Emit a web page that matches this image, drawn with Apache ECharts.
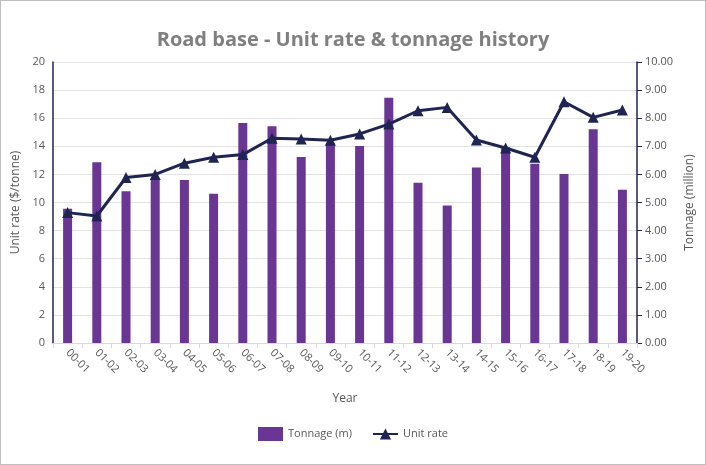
<!DOCTYPE html>
<html><head><meta charset="utf-8">
<script src="https://cdn.jsdelivr.net/npm/echarts@6/dist/echarts.min.js"></script>
<style>html,body{margin:0;padding:0;background:#fff}#c{width:704px;height:463px;border:1px solid #bfbfbf}</style>
</head><body><div id="c"></div>
<script>
var years = ['00-01','01-02','02-03','03-04','04-05','05-06','06-07','07-08','08-09','09-10','10-11','11-12','12-13','13-14','14-15','15-16','16-17','17-18','18-19','19-20'];
var tonnage = [4.78,6.43,5.40,5.84,5.80,5.31,7.83,7.71,6.62,7.10,7.01,8.73,5.70,4.89,6.25,6.97,6.38,6.01,7.61,5.45];
var unitRate = [9.28,9.04,11.78,12.0,12.8,13.22,13.41,14.57,14.52,14.43,14.88,15.58,16.53,16.77,14.45,13.88,13.22,17.17,16.06,16.58];

var chart = echarts.init(document.getElementById('c'));
var grey = '#595959';
var navy = '#1f2452';
chart.setOption({
    animation: false,
    textStyle: {fontFamily: 'Open Sans, Liberation Sans, sans-serif'},
    title: {
        text: 'Road base - Unit rate & tonnage history',
        left: 'center', top: 24,
        textStyle: {color: '#7f7f7f', fontSize: 20, fontWeight: 'bold'}
    },
    legend: {
        bottom: 18, itemGap: 20,
        textStyle: {color: grey, fontSize: 11},
        data: [{name: 'Tonnage (m)', icon: 'rect'}, {name: 'Unit rate'}]
    },
    grid: {left: 52, right: 68, top: 61, bottom: 121},
    xAxis: {
        type: 'category', data: years, name: 'Year', nameLocation: 'middle', nameGap: 50,
        nameTextStyle: {color: grey, fontSize: 12},
        axisLine: {lineStyle: {color: '#d9d9d9'}},
        axisTick: {show: true, alignWithLabel: false, lineStyle: {color: '#d9d9d9'}},
        axisLabel: {rotate: -45, color: grey, fontSize: 11, interval: 0, margin: 8}
    },
    yAxis: [{
        type: 'value', min: 0, max: 20, interval: 2, name: 'Unit rate ($/tonne)',
        nameLocation: 'middle', nameGap: 30, nameTextStyle: {color: grey, fontSize: 12},
        axisLine: {show: true, lineStyle: {color: navy, width: 1.5}},
        axisLabel: {color: grey, fontSize: 11},
        splitLine: {lineStyle: {color: '#e3e3e3'}}
    }, {
        type: 'value', min: 0, max: 10, interval: 1, name: 'Tonnage (million)',
        nameLocation: 'middle', nameGap: 44, nameTextStyle: {color: grey, fontSize: 12},
        axisLine: {show: true, lineStyle: {color: navy, width: 1.5}},
        axisTick: {show: true, lineStyle: {color: navy}},
        axisLabel: {color: grey, fontSize: 11, formatter: function (v) { return v.toFixed(2); }},
        splitLine: {show: false}
    }],
    series: [{
        name: 'Tonnage (m)', type: 'bar', yAxisIndex: 1, data: tonnage,
        barWidth: 9, itemStyle: {color: '#6a3694'}
    }, {
        name: 'Unit rate', type: 'line', yAxisIndex: 0, data: unitRate,
        symbol: 'triangle', symbolSize: 11,
        lineStyle: {color: navy, width: 3}, itemStyle: {color: navy}
    }]
});
</script></body></html>
